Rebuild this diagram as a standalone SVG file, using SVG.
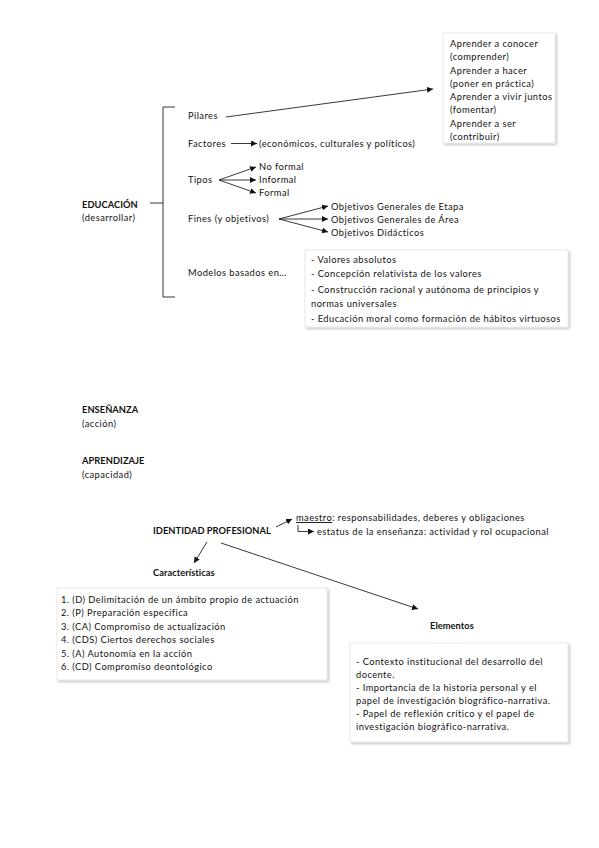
<svg xmlns="http://www.w3.org/2000/svg" width="599" height="848" viewBox="0 0 599 848">
<defs>
<marker id="ah" viewBox="0 0 10 10" refX="10" refY="5" markerWidth="6" markerHeight="6" markerUnits="userSpaceOnUse" orient="auto">
<path d="M0,0 L10,5 L0,10 z" fill="#111"/>
</marker>
<filter id="sh" x="-5%" y="-5%" width="110%" height="115%">
<feDropShadow dx="1.5" dy="1.5" stdDeviation="1" flood-color="#000" flood-opacity="0.25"/>
</filter>
</defs>
<style>
text{font-family:Lato,"Open Sans","Liberation Sans",sans-serif;font-size:9.3px;letter-spacing:0.45px;fill:#111}
.b{font-weight:bold;letter-spacing:0.05px}
.box{fill:#fff;stroke:#e4e4e4;stroke-width:0.8}
.ln{stroke:#222;stroke-width:0.9;fill:none}
.ar{stroke:#222;stroke-width:0.9;fill:none;marker-end:url(#ah)}
</style>
<rect width="599" height="848" fill="#fff"/>

<g id="connectors">
<path class="ln" d="M175,107 L163,107 L163,203 L150,203 M163,203 L163,297 L175,297" stroke="#444"/>
<line class="ar" x1="226" y1="117" x2="433" y2="89"/>
<line class="ar" x1="231" y1="143.5" x2="257" y2="143.5"/>
<line class="ar" x1="219" y1="180" x2="256" y2="167"/>
<line class="ar" x1="219" y1="180" x2="256" y2="180"/>
<line class="ar" x1="219" y1="180" x2="256" y2="193"/>
<line class="ar" x1="279" y1="219" x2="328" y2="206"/>
<line class="ar" x1="279" y1="219" x2="328" y2="219"/>
<line class="ar" x1="279" y1="219" x2="328" y2="232"/>
<line class="ar" x1="276" y1="527" x2="292" y2="519"/>
<path class="ar" d="M298,525 L298,531.5 L314,531.5"/>
<line class="ar" x1="207" y1="542" x2="194" y2="563"/>
<line class="ar" x1="221" y1="543" x2="418" y2="609"/>
</g>

<g id="educacion">
<text class="b" x="82" y="208">EDUCACIÓN</text>
<text x="82" y="221">(desarrollar)</text>
</g>

<g id="pilares"><text x="188" y="119">Pilares</text></g>
<g id="pilares-box">
<rect class="box" x="443" y="33" width="112" height="110" filter="url(#sh)"/>
<text x="450" y="47">Aprender a conocer</text>
<text x="450" y="60">(comprender)</text>
<text x="450" y="74">Aprender a hacer</text>
<text x="450" y="87">(poner en práctica)</text>
<text x="450" y="100">Aprender a vivir juntos</text>
<text x="450" y="113">(fomentar)</text>
<text x="450" y="127">Aprender a ser</text>
<text x="450" y="140">(contribuir)</text>
</g>

<g id="factores">
<text x="188" y="146.5">Factores</text>
<text x="259" y="146.5">(económicos, culturales y políticos)</text>
</g>

<g id="tipos">
<text x="188" y="183">Tipos</text>
<text x="259" y="170">No formal</text>
<text x="259" y="183">Informal</text>
<text x="259" y="196">Formal</text>
</g>

<g id="fines">
<text x="188" y="222">Fines (y objetivos)</text>
<text x="331" y="209.5">Objetivos Generales de Etapa</text>
<text x="331" y="222.5">Objetivos Generales de Área</text>
<text x="331" y="236">Objetivos Didácticos</text>
</g>

<g id="modelos">
<text x="188" y="276">Modelos basados en…</text>
</g>
<g id="modelos-box">
<rect class="box" x="305" y="250" width="263" height="77" filter="url(#sh)"/>
<text x="311" y="263">- Valores absolutos</text>
<text x="311" y="277">- Concepción relativista de los valores</text>
<text x="311" y="293">- Construcción racional y autónoma de principios y</text>
<text x="311" y="307">normas universales</text>
<text x="311" y="322">- Educación moral como formación de hábitos virtuosos</text>
</g>

<g id="ensenanza">
<text class="b" x="82" y="413">ENSEÑANZA</text>
<text x="82" y="427">(acción)</text>
</g>
<g id="aprendizaje">
<text class="b" x="82" y="464">APRENDIZAJE</text>
<text x="82" y="478">(capacidad)</text>
</g>

<g id="identidad">
<text class="b" x="153" y="534">IDENTIDAD PROFESIONAL</text>
</g>
<g id="maestro">
<text x="296" y="521"><tspan text-decoration="underline">maestro</tspan>: responsabilidades, deberes y obligaciones</text>
</g>
<g id="estatus">
<text x="317" y="535">estatus de la enseñanza: actividad y rol ocupacional</text>
</g>

<g id="caracteristicas">
<text class="b" x="153" y="576">Características</text>
</g>
<g id="caracteristicas-box">
<rect class="box" x="57" y="588" width="270" height="92" filter="url(#sh)"/>
<text x="61" y="603">1. (D) Delimitación de un ámbito propio de actuación</text>
<text x="61" y="616">2. (P) Preparación específica</text>
<text x="61" y="629.5">3. (CA) Compromiso de actualización</text>
<text x="61" y="643">4. (CDS) Ciertos derechos sociales</text>
<text x="61" y="656.5">5. (A) Autonomía en la acción</text>
<text x="61" y="670">6. (CD) Compromiso deontológico</text>
</g>

<g id="elementos">
<text class="b" x="430" y="629">Elementos</text>
</g>
<g id="elementos-box">
<rect class="box" x="350" y="643" width="218" height="99" filter="url(#sh)"/>
<text x="356" y="665">- Contexto institucional del desarrollo del</text>
<text x="356" y="678">docente.</text>
<text x="356" y="691">- Importancia de la historia personal y el</text>
<text x="356" y="704">papel de investigación biográfico-narrativa.</text>
<text x="356" y="717">- Papel de reflexión crítico y el papel de</text>
<text x="356" y="730">investigación biográfico-narrativa.</text>
</g>
</svg>
